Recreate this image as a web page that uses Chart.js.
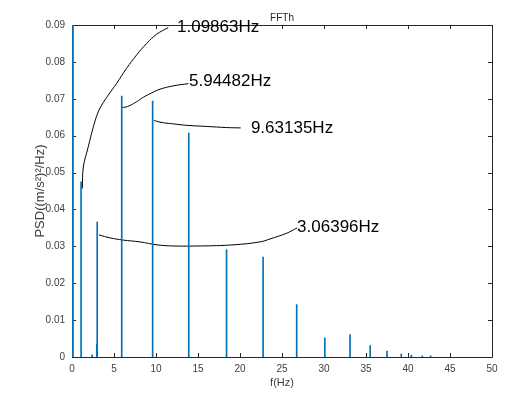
<!DOCTYPE html>
<html>
<head>
<meta charset="utf-8">
<script src="https://cdn.jsdelivr.net/npm/chart.js@4.4.1/dist/chart.umd.min.js"></script>
<style>
  html, body { margin: 0; padding: 0; background: #fff; }
  #wrap { width: 511px; height: 397px; }
</style>
</head>
<body>
<div id="wrap"><canvas id="myChart" width="511" height="397"></canvas></div>
<script>
// spectrum peaks (Hz, PSD)
const dcFreq = [0];
const dcPsd  = [0.12];
const peakFreqs = [1.08, 2.4, 2.95, 3.0, 5.92, 9.6, 13.9, 18.4, 22.75, 26.75, 30.1, 33.1, 35.5, 37.5, 39.2, 40.4, 41.7, 42.7];
const peakPsd   = [0.0475, 0.0006, 0.0035, 0.0366, 0.0707, 0.0694, 0.0607, 0.0291, 0.0271, 0.0142, 0.0052, 0.0061, 0.0031, 0.0016, 0.0008, 0.0005, 0.0003, 0.0003];

// annotation labels
const labelText = ["1.09863Hz", "5.94482Hz", "9.63135Hz", "3.06396Hz"];
const labelX    = [12.5, 13.93, 21.3, 26.8];
const labelY    = [0.0895, 0.0748, 0.0621, 0.0352];

// leader curves to each label
const curve1X = [1.23, 1.35, 1.94, 2.54, 3.06, 3.54, 4.32, 5.32, 6.51, 7.7, 8.89, 10.08, 11.46];
const curve1Y = [0.0457, 0.0515, 0.057, 0.0624, 0.0661, 0.0683, 0.071, 0.0742, 0.0783, 0.0819, 0.085, 0.0875, 0.0893];
const curve2X = [5.92, 6.31, 6.9, 7.7, 8.49, 9.49, 10.48, 12.06, 13.85];
const curve2Y = [0.0677, 0.0677, 0.0682, 0.0692, 0.0704, 0.0716, 0.0726, 0.0735, 0.0741];
const curve3X = [9.76, 10.08, 10.87, 12.06, 13.65, 16.04, 18.42, 20.08];
const curve3Y = [0.0642, 0.0639, 0.0635, 0.0632, 0.0628, 0.0625, 0.0622, 0.0621];
const curve4X = [3.21, 4.52, 6.07, 8.1, 10.12, 12.02, 15.24, 19.17, 22.38, 23.57, 25.6, 26.79];
const curve4Y = [0.0331, 0.0323, 0.0317, 0.0312, 0.0304, 0.0301, 0.0301, 0.0304, 0.0312, 0.032, 0.0336, 0.035];

const xTicks = [0, 5, 10, 15, 20, 25, 30, 35, 40, 45, 50];
const yTicks = [0, 0.01, 0.02, 0.03, 0.04, 0.05, 0.06, 0.07, 0.08, 0.09];

const FONT = "'Liberation Sans', Arial, sans-serif";
const toPts = (xs, ys) => xs.map((x, i) => ({ x: x, y: ys[i] }));

function curveSet(xs, ys) {
  return {
    type: "line",
    data: toPts(xs, ys),
    borderColor: "#000",
    borderWidth: 1,
    pointRadius: 0,
    tension: 0.4,
    fill: false,
  };
}

const frame = {
  id: "frame",
  beforeDatasetsDraw(chart) {
    const ctx = chart.ctx;
    const a = chart.chartArea;
    const xs = chart.scales.x, ys = chart.scales.y;
    ctx.save();
    ctx.strokeStyle = "#262626";
    ctx.lineWidth = 1;
    ctx.beginPath();
    ctx.rect(Math.round(a.left) + 0.5, Math.round(a.top) + 0.5, Math.round(a.right - a.left), Math.round(a.bottom - a.top));
    const t = 4;
    xTicks.forEach((v) => {
      const px = Math.round(xs.getPixelForValue(v)) + 0.5;
      ctx.moveTo(px, a.bottom); ctx.lineTo(px, a.bottom - t);
      ctx.moveTo(px, a.top); ctx.lineTo(px, a.top + t);
    });
    yTicks.forEach((v) => {
      const py = Math.round(ys.getPixelForValue(v)) + 0.5;
      ctx.moveTo(a.left, py); ctx.lineTo(a.left + t, py);
      ctx.moveTo(a.right, py); ctx.lineTo(a.right - t, py);
    });
    ctx.stroke();
    ctx.restore();
  },
  afterDatasetsDraw(chart) {
    const ctx = chart.ctx;
    const a = chart.chartArea;
    const xs = chart.scales.x, ys = chart.scales.y;
    ctx.save();
    // peak labels
    ctx.fillStyle = "#000";
    ctx.font = "17px " + FONT;
    ctx.textBaseline = "middle";
    ctx.textAlign = "left";
    labelText.forEach((s, i) => {
      ctx.fillText(s, xs.getPixelForValue(labelX[i]), ys.getPixelForValue(labelY[i]));
    });

    // title
    ctx.font = "10px " + FONT;
    ctx.fillStyle = "#262626";
    ctx.textAlign = "center";
    ctx.textBaseline = "alphabetic";
    ctx.fillText("FFTh", (a.left + a.right) / 2, a.top - 4);
    ctx.restore();
  },
};

const ctx = document.getElementById("myChart");
new Chart(ctx, {
  type: "bar",
  data: {
    datasets: [
      {
        type: "bar",
        data: toPts(dcFreq, dcPsd),
        backgroundColor: "#0072BD",
        barThickness: 3,
        grouped: false,
        clip: { left: 0, top: 0, right: 0, bottom: 0 },
      },
      {
        type: "bar",
        data: toPts(peakFreqs, peakPsd),
        backgroundColor: "#0072BD",
        barThickness: 1,
        grouped: false,
      },
      curveSet(curve1X, curve1Y),
      curveSet(curve2X, curve2Y),
      curveSet(curve3X, curve3Y),
      curveSet(curve4X, curve4Y),
    ],
  },
  options: {
    responsive: false,
    animation: false,
    layout: { padding: { left: 0, top: 25, right: 19, bottom: 0 } },
    plugins: {
      legend: { display: false },
      tooltip: { enabled: false },
    },
    scales: {
      x: {
        type: "linear",
        min: 0,
        max: 50,
        offset: false,
        grid: { display: false, drawTicks: false },
        border: { display: false },
        ticks: {
          stepSize: 5,
          padding: 6,
          color: "#404040",
          font: { family: FONT, size: 10 },
        },
        title: {
          display: true,
          text: "f(Hz)",
          color: "#404040",
          font: { family: FONT, size: 11 },
          padding: { top: 7, bottom: 7 },
        },
        afterFit(scale) { scale.height = 40; },
      },
      y: {
        min: 0,
        max: 0.09,
        grid: { display: false, drawTicks: false },
        border: { display: false },
        ticks: {
          stepSize: 0.01,
          padding: 7,
          color: "#404040",
          font: { family: FONT, size: 10 },
          callback: (v) => String(Math.round(v * 100) / 100),
        },
        title: {
          display: true,
          text: "PSD((m/s²)²/Hz)",
          color: "#404040",
          font: { family: FONT, size: 13 },
          padding: { top: 33, bottom: 0 },
        },
        afterFit(scale) { scale.width = 72; },
      },
    },
  },
  plugins: [frame],
});
</script>
</body>
</html>
